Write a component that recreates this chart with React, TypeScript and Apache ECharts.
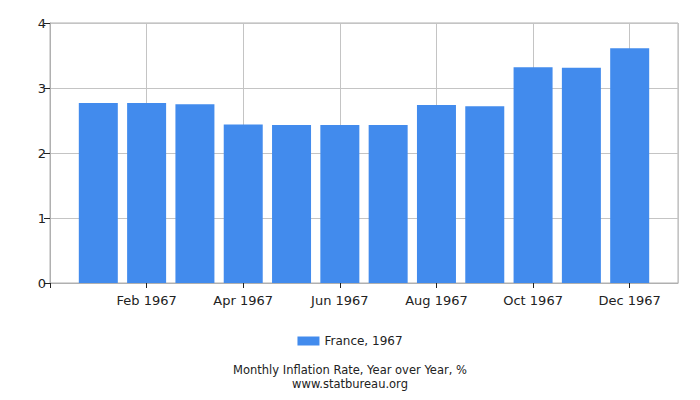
import React, { useEffect, useRef } from "react";
import * as echarts from "echarts";

const months = [
  "Jan 1967", "Feb 1967", "Mar 1967", "Apr 1967", "May 1967", "Jun 1967",
  "Jul 1967", "Aug 1967", "Sep 1967", "Oct 1967", "Nov 1967", "Dec 1967",
];
const values = [2.77, 2.77, 2.75, 2.44, 2.43, 2.43, 2.43, 2.74, 2.72, 3.32, 3.31, 3.61];
const seriesName = "France, 1967";
const yTicks = [0, 1, 2, 3, 4];
const titleLines = ["Monthly Inflation Rate, Year over Year, %", "www.statbureau.org"];

const FONT = "DejaVu Sans";

const App = () => {
  const chartRef = useRef(null);

  useEffect(() => {
    document.body.style.margin = "0";
    if (!chartRef.current) return;
    const chart = echarts.init(chartRef.current, null, { renderer: "svg" });

    const option = {
      animation: false,
      textStyle: { fontFamily: FONT },
      graphic: titleLines.map((t, i) => ({
        type: "text",
        left: "center",
        top: 364 + i * 14,
        style: {
          text: t,
          fontFamily: FONT,
          fontSize: 11.5,
          fill: "#222",
        },
      })),
      legend: {
        top: 330,
        left: "center",
        icon: "rect",
        itemWidth: 22,
        itemHeight: 9,
        itemGap: 5,
        textStyle: { fontFamily: FONT, fontSize: 12, color: "#222" },
        data: [seriesName],
      },
      grid: {
        left: 50,
        right: 22,
        top: 23,
        bottom: 117,
        show: true,
        borderColor: "#b0b0b0",
        borderWidth: 1,
      },
      xAxis: {
        type: "value",
        min: 0,
        max: 13,
        interval: 2,
        axisLine: { show: true, lineStyle: { color: "#b0b0b0" } },
        axisTick: { show: true, length: 5, lineStyle: { color: "#222" } },
        axisLabel: {
          fontFamily: FONT,
          fontSize: 13,
          color: "#222",
          margin: 11,
          showMaxLabel: false,
          formatter: (v: number) => (v >= 1 && v <= 12 ? months[v - 1] : ""),
        },
        splitLine: { show: true, lineStyle: { color: "#c4c4c4" } },
      },
      yAxis: {
        type: "value",
        min: yTicks[0],
        max: yTicks[yTicks.length - 1],
        interval: 1,
        axisLine: { show: true, lineStyle: { color: "#b0b0b0" } },
        axisTick: { show: true, length: 6, lineStyle: { color: "#222" } },
        axisLabel: { fontFamily: FONT, fontSize: 13, color: "#222", margin: 4 },
        splitLine: { show: true, lineStyle: { color: "#c4c4c4" } },
      },
      series: [
        {
          name: seriesName,
          type: "bar",
          barWidth: 39,
          data: values.map((v, i) => [i + 1, v]),
          itemStyle: { color: "#428bed" },
        },
      ],
    };

    chart.setOption(option);
    return () => chart.dispose();
  }, []);

  return <div ref={chartRef} style={{ width: "700px", height: "400px" }} />;
};

export default App;
